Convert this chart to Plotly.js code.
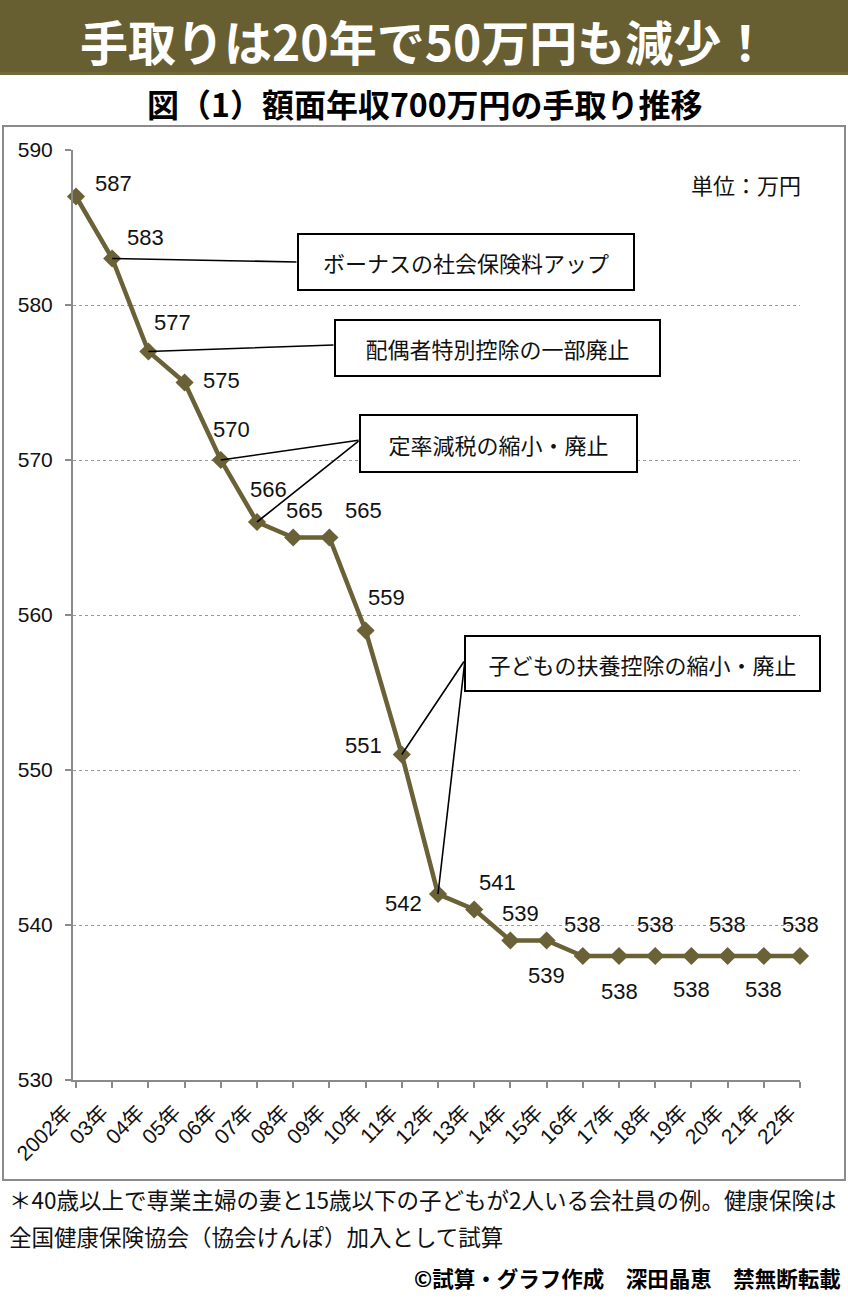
<!DOCTYPE html>
<html>
<head>
<meta charset="utf-8">
<script src="https://cdn.plot.ly/plotly-3.0.1.min.js"></script>
<style>html,body{margin:0;padding:0;background:#fff}</style>
</head>
<body>
<div id="graph" style="width:848px;height:1300px"></div>
<script>
// data
const years = ["2002年", "03年", "04年", "05年", "06年", "07年", "08年", "09年", "10年", "11年",
    "12年", "13年", "14年", "15年", "16年", "17年", "18年", "19年", "20年", "21年", "22年"];
const takeHome = [587, 583, 577, 575, 570, 566, 565, 565, 559, 551,
    542, 541, 539, 539, 538, 538, 538, 538, 538, 538, 538];
const callouts = ["ボーナスの社会保険料アップ", "配偶者特別控除の一部廃止", "定率減税の縮小・廃止", "子どもの扶養控除の縮小・廃止"];
const leaderPoint = [1, 2, 4, 5, 9, 10];
const leaderBox = [0, 1, 2, 2, 3, 3];

// page geometry (pixels)
const W = 848, H = 1300;
const plotL = 73, plotR = 800, plotT = 150, plotB = 1080;
const xr = [-0.083, 20], yr = [530, 590];
const olive = "#6a6236";
const font = "Liberation Sans, Noto Sans CJK JP, sans-serif";
const jfont = "Noto Sans CJK JP, sans-serif";

function px(x) { return x / W; }
function py(y) { return 1 - y / H; }
function ptX(i) { return plotL + (i - xr[0]) / (xr[1] - xr[0]) * (plotR - plotL); }
function ptY(v) { return plotT + (yr[1] - v) / (yr[1] - yr[0]) * (plotB - plotT); }

// label offsets from each point (pixels, screen direction)
const labelShift = [[37, -13], [33, -21], [24, -29], [37, -2], [11, -31], [11, -33], [11, -27], [34, -27],
    [21, -33], [-38, -9], [-35, 9], [23, -27], [10, -27], [0, 35], [0, -32], [0, 35], [0, -32],
    [0, 33], [0, -32], [0, 33], [0, -32]];
// callout boxes: [left, top, right, bottom]
const boxes = [[298, 234, 634, 290], [335, 320, 660, 376], [360, 415, 637, 472], [465, 636, 820, 691]];
const boxTail = [[298, 262], [335, 345], [360, 440], [465, 660]];

function note(x, y, text, size, opts) {
    return Object.assign({
        x: px(x), y: py(y), xref: "paper", yref: "paper", xanchor: "center", yanchor: "middle",
        showarrow: false, text: text, font: {family: jfont, size: size, color: "#111"}
    }, opts || {});
}

function plot() {
    let line = {
        x: years,
        y: takeHome,
        type: "scatter",
        mode: "lines+markers",
        cliponaxis: false,
        line: {color: olive, width: 4.5},
        marker: {symbol: "diamond", size: 14, color: olive},
        hoverinfo: "skip"
    };

    let annotations = [];

    // leader lines
    leaderPoint.forEach((p, k) => {
        let t = boxTail[leaderBox[k]];
        annotations.push({
            x: years[p], y: takeHome[p], xref: "x", yref: "y",
            text: "", showarrow: true, arrowhead: 0, arrowwidth: 1.6, arrowcolor: "#000",
            ax: t[0] - ptX(p), ay: t[1] - ptY(takeHome[p]), standoff: 0, startstandoff: 0
        });
    });

    // callout boxes
    callouts.forEach((c, k) => {
        let b = boxes[k];
        annotations.push(note((b[0] + b[2]) / 2, (b[1] + b[3]) / 2, c, 22, {
            bgcolor: "#fff", bordercolor: "#000", borderwidth: 2, borderpad: 0,
            width: b[2] - b[0] - 2, height: b[3] - b[1] - 2
        }));
    });

    // data labels
    takeHome.forEach((v, i) => {
        annotations.push({
            x: years[i], y: v, xref: "x", yref: "y", text: String(v), showarrow: false,
            xshift: labelShift[i][0], yshift: -labelShift[i][1],
            font: {family: font, size: 22, color: "#111"}
        });
    });

    // texts around the chart
    annotations.push(
        note(424, 40, "<b>手取りは20年で50万円も減少！</b>", 48, {font: {family: jfont, size: 48, color: "#fff"}}),
        note(425, 103, "<b>図（1）額面年収700万円の手取り推移</b>", 32, {font: {family: jfont, size: 32, color: "#000"}}),
        note(803, 184, "単位：万円", 22, {xanchor: "right"}),
        note(7, 1199, "＊40歳以上で専業主婦の妻と15歳以下の子どもが2人いる会社員の例。健康保険は", 22.5, {xanchor: "left"}),
        note(7, 1236, "全国健康保険協会（協会けんぽ）加入として試算", 22.5, {xanchor: "left"}),
        note(843, 1277, "<b>©試算・グラフ作成　深田晶恵　禁無断転載</b>", 21.5,
            {xanchor: "right", font: {family: jfont, size: 21.5, color: "#000"}})
    );

    let shapes = [
        {type: "rect", xref: "paper", yref: "paper", x0: 0, x1: 1, y0: py(75), y1: 1,
         fillcolor: "#675e32", line: {width: 0}, layer: "below"},
        {type: "rect", xref: "paper", yref: "paper", x0: 0, x1: 1, y0: py(75), y1: py(72),
         fillcolor: "#736a3c", line: {width: 0}, layer: "below"},
        {type: "rect", xref: "paper", yref: "paper", x0: px(3), x1: px(845), y0: py(1180), y1: py(126),
         fillcolor: "rgba(0,0,0,0)", line: {color: "#8a8a8a", width: 2}, layer: "below"}
    ];

    let layout = {
        width: W, height: H,
        margin: {l: 0, r: 0, t: 0, b: 0},
        paper_bgcolor: "#fff", plot_bgcolor: "#fff",
        showlegend: false,
        font: {family: font, color: "#111"},
        xaxis: {
            domain: [px(plotL), px(plotR)],
            type: "category", range: xr,
            showgrid: false, zeroline: false,
            showline: true, linecolor: "#8a8a8a", linewidth: 2,
            ticks: "outside", ticklen: 6, tickcolor: "#8a8a8a", tickwidth: 2,
            tickangle: -45, ticklabelshift: -10, ticklabelstandoff: 4,
            tickfont: {family: font, size: 21, color: "#111"}
        },
        yaxis: {
            domain: [py(plotB), py(plotT)],
            range: yr, dtick: 10, tick0: 530,
            showgrid: true, gridcolor: "#9a9a9a", griddash: "dot", gridwidth: 1,
            zeroline: false,
            showline: true, linecolor: "#8a8a8a", linewidth: 2,
            ticks: "outside", ticklen: 6, tickcolor: "#8a8a8a", tickwidth: 2,
            ticklabelstandoff: 8,
            tickfont: {family: font, size: 21, color: "#111"}
        },
        annotations: annotations,
        shapes: shapes
    };

    Plotly.newPlot("graph", [line], layout, {displayModeBar: false, staticPlot: true});
}

plot();
</script>
</body>
</html>
